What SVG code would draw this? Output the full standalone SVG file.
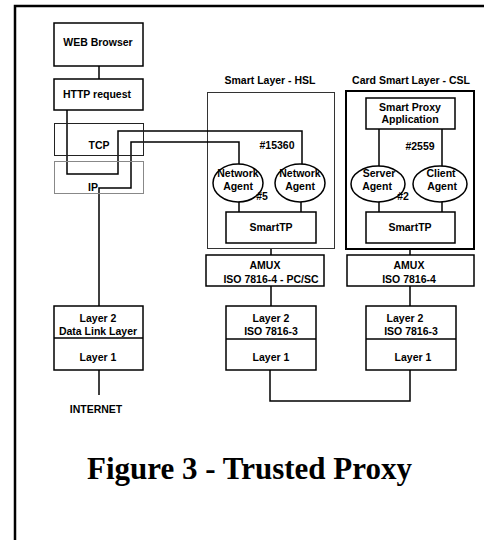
<svg xmlns="http://www.w3.org/2000/svg" width="484" height="540" viewBox="0 0 484 540">
<style>
.box{fill:#fff;stroke:#000;stroke-width:1.5}
.thin{fill:none;stroke:#333;stroke-width:1}
.t{font-family:"Liberation Sans",Arial,sans-serif;font-weight:bold;font-size:10.5px;fill:#000;text-anchor:middle}
.c{fill:none;stroke:#000;stroke-width:1.5}
</style>
<rect width="484" height="540" fill="#fff"/>
<g id="frame"><path d="M15,540 V6 H484" fill="none" stroke="#000" stroke-width="2.5"/></g>

<g id="hsl"><rect x="207.5" y="92.5" width="127" height="156" class="thin"/><text x="270" y="84" class="t">Smart Layer - HSL</text></g>
<g id="csl"><rect x="346" y="91" width="128" height="158" fill="none" stroke="#000" stroke-width="2"/><text x="411" y="84" class="t">Card Smart Layer - CSL</text></g>

<g id="connectors">
<path class="c" d="M99,66 V79"/>
<path class="c" d="M67,110 V174 H118 V131 H302 V165"/>
<path class="c" d="M99,306 V188 H131 V142 H239 V165"/>
<path class="c" d="M239,201 V212 M301,201 V212"/>
<path class="c" d="M379,129 V167 M442,129 V167 M379,202 V212 M442,202 V212"/>
<path class="c" d="M271,249 V255 M271,286 V306 M410,249 V255 M410,286 V306"/>
<path class="c" d="M99,370 V395"/>
<path class="c" d="M270,370 V401 H410 V370"/>
</g>

<g id="web"><rect x="54" y="23" width="89" height="43" class="box"/><text x="98" y="46" class="t">WEB Browser</text></g>
<g id="http"><rect x="54" y="79" width="89" height="31" class="box"/><text x="97" y="98" class="t">HTTP request</text></g>
<g id="tcp"><rect x="54.5" y="123.5" width="89" height="32" fill="none" stroke="#222" stroke-width="1"/><text x="99" y="149" class="t">TCP</text></g>
<g id="ip"><rect x="54.5" y="161.5" width="89" height="32" fill="none" stroke="#888" stroke-width="1"/><text x="88" y="191" class="t" style="text-anchor:start">IP</text></g>

<g id="netagent1"><ellipse cx="238" cy="183" rx="25" ry="19" class="box"/><text x="238" y="177" class="t">Network</text><text x="238" y="190" class="t">Agent</text></g>
<g id="netagent2"><ellipse cx="300" cy="183" rx="25" ry="19" class="box"/><text x="300" y="177" class="t">Network</text><text x="300" y="190" class="t">Agent</text></g>
<text x="277" y="149" class="t">#15360</text>
<text x="262" y="200" class="t">#5</text>
<g id="smarttp1"><rect x="226" y="212" width="90" height="31" class="box"/><text x="271" y="231" class="t">SmartTP</text></g>

<g id="proxyapp"><rect x="366" y="98" width="89" height="31" class="box"/><text x="410" y="111" class="t">Smart Proxy</text><text x="410" y="123" class="t">Application</text></g>
<g id="server"><ellipse cx="378" cy="184" rx="27" ry="18" class="box"/><text x="379" y="177" class="t">Server</text><text x="377" y="190" class="t">Agent</text></g>
<g id="client"><ellipse cx="440" cy="184" rx="27" ry="18" class="box"/><text x="441" y="177" class="t">Client</text><text x="442" y="190" class="t">Agent</text></g>
<text x="420" y="150" class="t">#2559</text>
<text x="403" y="200" class="t">#2</text>
<g id="smarttp2"><rect x="366" y="212" width="89" height="31" class="box"/><text x="410" y="231" class="t">SmartTP</text></g>

<g id="amux1"><rect x="206" y="255" width="118" height="31" class="box"/><text x="265" y="269" class="t">AMUX</text><text x="271" y="283" class="t">ISO 7816-4 - PC/SC</text></g>
<g id="amux2"><rect x="347" y="255" width="127" height="31" class="box"/><text x="409" y="269" class="t">AMUX</text><text x="409" y="283" class="t">ISO 7816-4</text></g>

<g id="dl"><rect x="54" y="306" width="89" height="64" class="box"/><path d="M54,338 H143" class="c"/><text x="98" y="322" class="t">Layer 2</text><text x="98" y="335" class="t">Data Link Layer</text><text x="98" y="361" class="t">Layer 1</text></g>
<g id="l2mid"><rect x="226" y="306" width="90" height="64" class="box"/><path d="M226,339 H316" class="c"/><text x="271" y="322" class="t">Layer 2</text><text x="271" y="335" class="t">ISO 7816-3</text><text x="271" y="361" class="t">Layer 1</text></g>
<g id="l2right"><rect x="366" y="306" width="90" height="64" class="box"/><path d="M366,339 H456" class="c"/><text x="405" y="322" class="t">Layer 2</text><text x="411" y="335" class="t">ISO 7816-3</text><text x="413" y="361" class="t">Layer 1</text></g>

<text x="96" y="413" class="t">INTERNET</text>
<text x="249.5" y="479" style="font-family:'Liberation Serif','Times New Roman',serif;font-weight:bold;font-size:31px;text-anchor:middle">Figure 3 - Trusted Proxy</text>
</svg>
